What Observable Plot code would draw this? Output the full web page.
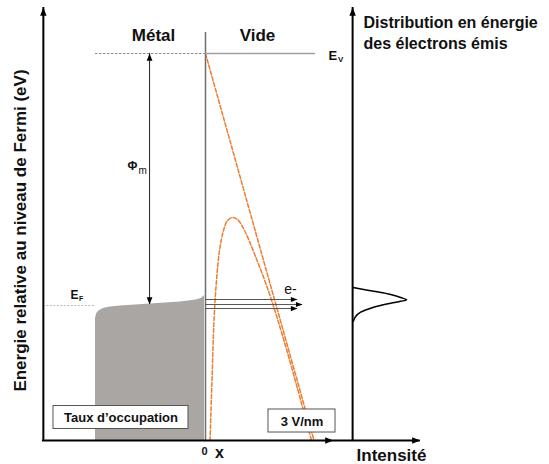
<!DOCTYPE html>
<html><head><meta charset="utf-8">
<script src="https://cdn.jsdelivr.net/npm/d3@7"></script>
<script src="https://cdn.jsdelivr.net/npm/@observablehq/plot@0.6"></script>
<style>html,body{margin:0;padding:0;background:#fff}svg{display:block}</style>
</head><body><div id="chart"></div>
<script>
// ---------- data (energy in eV relative to E_F, position x in nm, intensity in a.u.) ----------
const workFunction = 4.5;          // Φm : E_V - E_F
const fermiLevel = 0;
const energyFloor = -2.41;         // lower end of the energy axis
const energyAxisTop = 5.32;
const interfaceTop = 4.875;
const metalLeft = -2.34;           // left edge of the occupied band
const leftAxisX = -3.45;
const spectrumAxisX = 3.13;
const vacuumEnd = 2.34;
const positionArrowX = 2.72;
const intensityArrowX = 4.57;
const phiArrowX = -1.19;
const phiArrowBottom = 0.02;

// occupation of the metal states near the interface (top edge)
const occX   = [-2.340, -2.319, -2.277, -2.213, -2.128, -2.021, -1.809, -1.489, -1.170, -0.851, -0.532, -0.277, -0.128, -0.064, -0.021];
const occTop = [-0.232, -0.161, -0.107, -0.071, -0.045, -0.027, -0.009,  0.009,  0.027,  0.045,  0.063,  0.089,  0.116,  0.143,  0.179];

// vacuum level under a 3 V/nm field (triangular barrier)
const fieldLineX = [0, 2.309];
const fieldLineE = [4.5, -2.41];

// barrier including image charge (Schottky–Nordheim)
const imageX = [0.096, 0.138, 0.181, 0.234, 0.298, 0.383, 0.468, 0.574, 0.681, 0.830, 1.064, 1.351, 1.638, 1.957, 2.255];
const imageE = [-2.411, -1.339, -0.268, 0.446, 0.982, 1.339, 1.518, 1.571, 1.536, 1.339, 0.875, 0.232, -0.536, -1.482, -2.411];

// emitted electrons
const emitE   = [0.107, 0.018, -0.054];
const emitEnd = [1.957, 2.064, 1.957];

// energy distribution of the emitted electrons
const spectrumE = [0.321, 0.255, 0.196, 0.143, 0.102, 0.075, 0.041, -0.030, -0.120, -0.196, -0.280];
const spectrumI = [0.009, 0.389, 0.704, 0.889, 1.000, 0.889, 0.704, 0.389, 0.148, 0.056, 0.013];

// text labels
const boxLabels = [
  {text: "Taux d\u2019occupation", x: -1.798, e: -2.009, x1: -3.234, x2: -0.362, e1: -1.795, e2: -2.205},
  {text: "3 V/nm", x: 2.053, e: -2.071, x1: 1.340, x2: 2.766, e1: -1.857, e2: -2.268}
];
const regionLabels = [{text: "Métal", x: -1.106, e: 4.82}, {text: "Vide", x: 1.106, e: 4.82}];
const titleLines = ["Distribution en énergie", "des électrons émis"];
const titleE = [5.055, 4.665];
const titleX = 3.362;
const yLabel = "Energie relative au niveau de Fermi (eV)";
const xLabel = "x";
const originLabel = "0";
const intensityLabel = "Intensité";

// ---------- layout ----------
const W = 549, H = 464;
const PX_PER_NM = 47, PX_PER_EV = 56, X0 = 205, Y0 = 305;
const xDomain = [(0 - X0) / PX_PER_NM, (W - X0) / PX_PER_NM];
const yDomain = [(Y0 - H) / PX_PER_EV, Y0 / PX_PER_EV];
const SPECTRUM_SCALE = 54 / PX_PER_NM;

const FONT = "'Liberation Sans', Arial, Helvetica, sans-serif";
const ORANGE = "#ED7D31";

// filled arrowhead whose tip is at the origin, pointing up
const arrowHead = {
  draw(ctx, size) {
    const r = Math.sqrt(size / Math.PI);
    const L = 2.4 * r, hw = 0.95 * r;
    ctx.moveTo(0, 0); ctx.lineTo(-hw, L); ctx.lineTo(hw, L); ctx.closePath();
  }
};

const occupation = occX.map((x, i) => ({x, top: occTop[i]}));
const fieldLine = fieldLineX.map((x, i) => ({x, e: fieldLineE[i]}));
const imageLine = imageX.map((x, i) => ({x, e: imageE[i]}));
const electrons = emitE.map((e, i) => ({e, end: emitEnd[i]}));
const spectrum = spectrumE.map((e, i) => ({e, i: spectrumI[i]}));

const verticalAxes = [{x: leftAxisX}, {x: spectrumAxisX}];
const upHeads = [
  {x: leftAxisX, e: energyAxisTop, r: 3.2},
  {x: spectrumAxisX, e: energyAxisTop, r: 3.2},
  {x: phiArrowX, e: workFunction, r: 2.5}
];
const rightHeads = [
  {x: positionArrowX, e: energyFloor, r: 3.2},
  {x: intensityArrowX, e: energyFloor, r: 3.2},
  ...electrons.map(d => ({x: d.end, e: d.e, r: 2.1}))
];
const downHeads = [{x: phiArrowX, e: phiArrowBottom, r: 2.5}];

const chart = Plot.plot({
  width: W, height: H, margin: 0,
  x: {domain: xDomain, axis: null},
  y: {domain: yDomain, axis: null},
  style: {fontFamily: FONT, background: "#fff", overflow: "visible"},
  marks: [
    // occupied states
    Plot.areaY(occupation, {x: "x", y1: () => energyFloor, y2: "top", fill: "#aaa6a4", curve: "monotone-x"}),
    // barriers
    Plot.line(fieldLine, {x: "x", y: "e", stroke: ORANGE, strokeWidth: 1.5, strokeDasharray: "4,2"}),
    Plot.line(imageLine, {x: "x", y: "e", stroke: ORANGE, strokeWidth: 1.5, strokeDasharray: "4,2", curve: "catmull-rom"}),
    // boxes
    Plot.rect(boxLabels, {x1: "x1", x2: "x2", y1: "e1", y2: "e2", fill: "white", stroke: "#555", strokeWidth: 1}),
    Plot.text(boxLabels, {x: "x", y: "e", text: "text", fontSize: 13, fontWeight: "bold", fill: "#111"}),
    // interface
    Plot.ruleX([0], {x: d => d, y1: () => energyFloor, y2: () => interfaceTop, stroke: "#6e6e6e", strokeWidth: 1.5}),
    // vacuum level E_V
    Plot.ruleY([workFunction], {y: d => d, x1: () => metalLeft, x2: () => 0, stroke: "#8a8a8a", strokeWidth: 1, strokeDasharray: "2.5,1.5"}),
    Plot.ruleY([workFunction], {y: d => d, x1: () => 0, x2: () => vacuumEnd, stroke: "#a0a0a0", strokeWidth: 1.5}),
    // Fermi level
    Plot.ruleY([fermiLevel], {y: d => d, x1: () => leftAxisX, x2: () => metalLeft, stroke: "#aaaaaa", strokeWidth: 0.8, strokeDasharray: "2,1.5"}),
    // Φm arrow
    Plot.ruleX([phiArrowX], {x: d => d, y1: () => phiArrowBottom, y2: () => workFunction, stroke: "#222", strokeWidth: 1}),
    // emitted electrons
    Plot.ruleY(electrons, {y: "e", x1: () => 0, x2: "end", stroke: "#555", strokeWidth: 1}),
    // axes
    Plot.ruleX(verticalAxes, {x: "x", y1: () => energyFloor, y2: () => energyAxisTop, stroke: "#000", strokeWidth: 2}),
    Plot.ruleY([energyFloor], {y: d => d, x1: () => leftAxisX - 0.02, x2: () => intensityArrowX, stroke: "#000", strokeWidth: 2}),
    // arrow heads
    Plot.dot(upHeads, {x: "x", y: "e", r: "r", symbol: arrowHead, fill: "#000", stroke: "none"}),
    Plot.dot(rightHeads, {x: "x", y: "e", r: "r", symbol: arrowHead, rotate: 90, fill: "#000", stroke: "none"}),
    Plot.dot(downHeads, {x: "x", y: "e", r: "r", symbol: arrowHead, rotate: 180, fill: "#000", stroke: "none"}),
    // energy distribution
    Plot.line(spectrum, {x: d => spectrumAxisX + d.i * SPECTRUM_SCALE, y: "e", curve: "catmull-rom", stroke: "#000", strokeWidth: 1.5}),
    // labels
    Plot.text(regionLabels, {x: "x", y: "e", text: "text", fontSize: 17, fontWeight: "bold", fill: "#111"}),
    Plot.text(titleLines, {x: () => titleX, y: (d, i) => titleE[i], text: d => d, textAnchor: "start", fontSize: 16, fontWeight: "bold", fill: "#111"}),
    Plot.text([yLabel], {x: () => -3.936, y: () => 1.339, text: d => d, rotate: -90, fontSize: 17, fontWeight: "bold", fill: "#111"}),
    Plot.text([intensityLabel], {x: () => 3.957, y: () => -2.679, text: d => d, fontSize: 17, fontWeight: "bold", fill: "#111"}),
    Plot.text([originLabel], {x: () => -0.021, y: () => -2.607, text: d => d, fontSize: 11, fontWeight: "bold", fill: "#111"}),
    Plot.text([xLabel], {x: () => 0.298, y: () => -2.625, text: d => d, fontSize: 16, fontWeight: "bold", fill: "#111"}),
    Plot.text(["e-"], {x: () => 1.809, y: () => 0.286, text: d => d, fontSize: 14, fill: "#111"}),
    // E_V
    Plot.text(["E"], {x: () => 2.617, y: () => 4.464, text: d => d, textAnchor: "start", fontSize: 13, fontWeight: "bold", fill: "#111"}),
    Plot.text(["V"], {x: () => 2.617, y: () => 4.464, text: d => d, textAnchor: "start", dx: 9.5, dy: 4, fontSize: 8, fontWeight: "bold", fill: "#111"}),
    // E_F
    Plot.text(["E"], {x: () => -2.872, y: () => 0.179, text: d => d, textAnchor: "start", fontSize: 12, fontWeight: "bold", fill: "#111"}),
    Plot.text(["F"], {x: () => -2.872, y: () => 0.179, text: d => d, textAnchor: "start", dx: 8.5, dy: 3, fontSize: 7, fontWeight: "bold", fill: "#111"}),
    // Φm
    Plot.text(["\u03A6"], {x: () => -1.66, y: () => 2.482, text: d => d, textAnchor: "start", fontSize: 12, fontWeight: "bold", fill: "#111"}),
    Plot.text(["m"], {x: () => -1.66, y: () => 2.482, text: d => d, textAnchor: "start", dx: 11, dy: 4, fontSize: 10, fill: "#111"})
  ]
});
document.getElementById("chart").appendChild(chart);
</script>
</body></html>
